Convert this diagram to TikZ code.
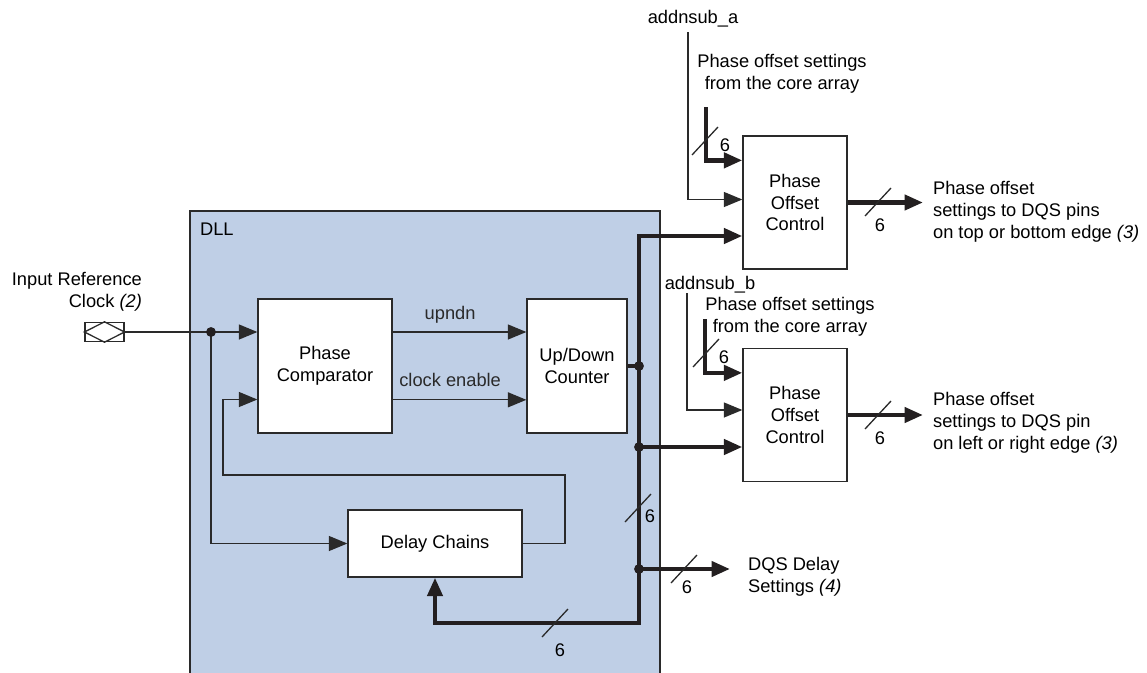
\documentclass[tikz,border=0pt]{standalone}
\usepackage{fontspec}
\setmainfont{Liberation Sans}
\usepackage{tikz}
\usetikzlibrary{calc,arrows.meta,positioning}
\definecolor{dllblue}{HTML}{BFCFE6}
\definecolor{wire}{HTML}{2A2A2A}
\definecolor{busblk}{HTML}{231F20}
\tikzset{
  >={Triangle[length=10.5pt,width=8.5pt]},
  ln/.style={line width=0.75pt,wire},
  ar/.style={ln,->},
  bus/.style={line width=2.5pt,busblk,line join=miter},
  busar/.style={bus,->},
  box/.style={draw=wire,line width=0.75pt,fill=white,align=center,inner sep=2pt},
  lbl/.style={inner sep=1pt,align=left}
}

\begin{document}
\begin{tikzpicture}[x=0.02cm,y=-0.02cm,font=\fontsize{10.4pt}{12.5pt}\selectfont]
\useasboundingbox (0,0) rectangle (1147,673);
% DLL block
\fill[dllblue] (190,211) rectangle (660,673);
\draw[ln] (190,673) -- (190,211) -- (660,211) -- (660,673);
\node[lbl,anchor=west] (dll) at (198,229) {DLL};

\node[box,minimum width=2.68cm,minimum height=2.68cm] (pc) at (325,366) {Phase\\Comparator};
\node[box,minimum width=2cm,minimum height=2.68cm] (udc) at (577,366) {Up/Down\\Counter};
\node[box,minimum width=3.48cm,minimum height=1.34cm] (dc) at (435,543.5) {Delay Chains};
\node[box,minimum width=2.08cm,minimum height=2.66cm] (poca) at (795,202.5) {Phase\\Offset\\Control};
\node[box,minimum width=2.08cm,minimum height=2.66cm] (pocb) at (795,415) {Phase\\Offset\\Control};

% clock pin
\node[draw=wire,line width=0.75pt,minimum width=0.78cm,minimum height=0.38cm,inner sep=0pt] (pin) at (104.5,332) {};
\draw[ln] (pin.west) -- (pin.north) -- (pin.east) -- (pin.south) -- cycle;
\node[lbl,anchor=east,align=right] (clkl) at (144,292) {Input Reference\\Clock \textit{(2)}};

\coordinate (clk) at (211,332);
\draw[ln] (pin.east) -- (clk);
\draw[ar] (clk) -- (clk -| pc.west);
\draw[ar] (clk) |- (dc.west);
\fill[busblk] (clk) circle (2.8pt);

\draw[ar] (pc.east |- clk) -- (udc.west |- clk) node[pos=0.43,above=1.3pt] (upl) {upndn};
\coordinate (ce) at ($(pc.south east)!.25!(pc.north east)$);
\draw[ar] (ce) -- (ce -| udc.west) node[pos=0.43,above=3.7pt] (cel) {clock enable};

% feedback from delay chains
\coordinate (fbr) at (565,475);
\coordinate (fbl) at (223,399.5);
\draw[ar] (dc.east) -| (fbr) -| (fbl) -- (fbl -| pc.west);

% 6-bit bus
\coordinate (btop) at (639,236);
\coordinate (bbot) at (639,623);
\coordinate (jud) at (udc.east -| btop);
\coordinate (jpb) at (639,447);
\coordinate (jdq) at (639,569);
\coordinate (dqend) at (730,569);
\draw[bus] (udc.east) -- (jud);
\draw[bus,<->] (dc.south) |- (bbot) -- (btop) -- (btop -| poca.west);
\draw[busar] (jpb) -- (jpb -| pocb.west);
\draw[busar] (jdq) -- (dqend);
\foreach \j in {jud,jpb,jdq} \fill[busblk] (\j) circle (2.8pt);
\node[lbl,anchor=west] (dqs) at (746,577) {DQS Delay\\Settings \textit{(4)}};

% phase offset control inputs
\node (asa) at (693,19) {addnsub\_a};
\coordinate (asat) at (688,32);
\draw[ar] (asat) |- ($(poca.west)+(0,-3)$);
\coordinate (pia) at (706,107);
\draw[busar] (pia) |- ($(poca.north west)+(0,25)$);
\node[lbl,align=center] (srca) at (782,74) {Phase offset settings\\from the core array};

\node (asb) at (710,285) {addnsub\_b};
\coordinate (asbt) at (687,293);
\draw[ar] (asbt) |- ($(pocb.west)+(0,-5)$);
\coordinate (pib) at (705,319);
\draw[busar] (pib) |- ($(pocb.north west)+(0,25)$);
\node[lbl,align=center] (srcb) at (790,316.5) {Phase offset settings\\from the core array};

% outputs
\coordinate (outx) at (923,0);
\draw[busar] (poca.east) -- (poca.east -| outx);
\draw[busar] (pocb.east) -- (pocb.east -| outx);
\node[lbl,anchor=west] (dsta) at (931,212) {Phase offset\\settings to DQS pins\\on top or bottom edge \textit{(3)}};
\node[lbl,anchor=west] (dstb) at (931,423) {Phase offset\\settings to DQS pin\\on left or right edge \textit{(3)}};

% bus width marks
\foreach \sx/\sy/\lx/\ly [count=\i] in {555/623/560/650, 638/508/650/516, 684/569/687/587,
    878/202/880/225, 878/415/880/438, 705/141/725/145, 706/353/724/357}{
  \draw[ln] (\sx-13,\sy+14) -- (\sx+13,\sy-14);
  \node[inner sep=0pt] (w\i) at (\lx,\ly) {6};
}
\end{tikzpicture}
\end{document}
